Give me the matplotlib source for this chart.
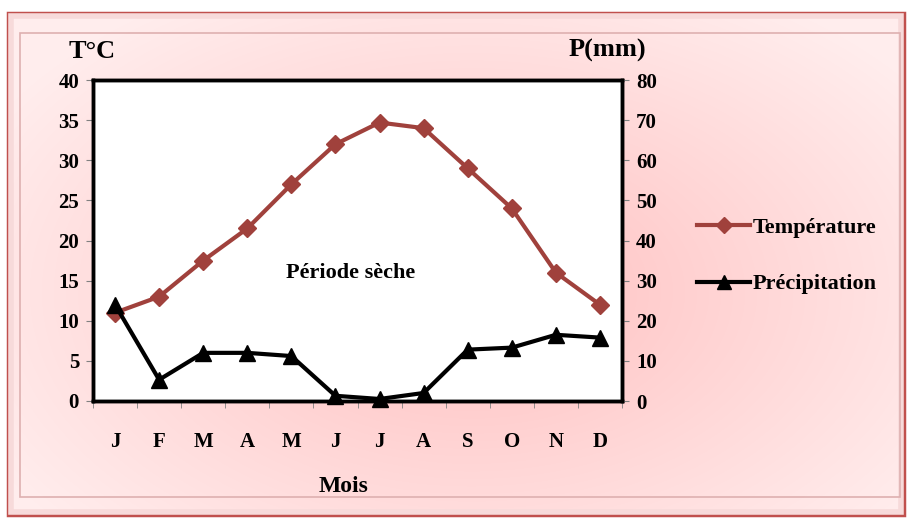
import numpy as np
import matplotlib
matplotlib.use('Agg')
import matplotlib.pyplot as plt
from matplotlib.patches import Rectangle
from matplotlib.lines import Line2D

# données climatiques mensuelles
mois = ['J', 'F', 'M', 'A', 'M', 'J', 'J', 'A', 'S', 'O', 'N', 'D']
temperature = [11, 13, 17.5, 21.5, 27, 32, 34.7, 34, 29, 24, 16, 12]
precipitation = [24, 5.3, 12, 12, 11.2, 1.3, 0.5, 2, 12.8, 13.3, 16.5, 15.8]
t_ticks = [0, 5, 10, 15, 20, 25, 30, 35, 40]
p_ticks = [0, 10, 20, 30, 40, 50, 60, 70, 80]

plt.rcParams['font.family'] = ['Liberation Serif', 'DejaVu Serif']
W, H = 909, 522
fig = plt.figure(figsize=(W / 100, H / 100), dpi=100)
fig.patch.set_facecolor('white')

# fond dégradé rose
bg = fig.add_axes([0, 0, 1, 1], zorder=-10)
bg.set_xlim(0, W)
bg.set_ylim(H, 0)
bg.axis('off')
yy, xx = np.mgrid[0:H, 0:W]
d = np.sqrt(((xx - 470) / 560.0) ** 2 + ((yy - 290) / 360.0) ** 2)
d = np.clip(d, 0, 1)
c0 = np.array([1.0, 0.75, 0.75])
c1 = np.array([1.0, 0.93, 0.93])
img = c0[None, None, :] * (1 - d[..., None]) + c1[None, None, :] * d[..., None]
bg.imshow(img, extent=[8, 904, 515, 13], aspect='auto', zorder=0)
bg.add_patch(Rectangle((8, 13), 896, 502, facecolor='none',
                       edgecolor='#c0504d', linewidth=2.5, zorder=1))
bg.add_patch(Rectangle((11, 16), 890, 496, facecolor='none',
                       edgecolor='#f7dada', linewidth=4, zorder=1))
bg.add_patch(Rectangle((20, 33), 880, 464, facecolor='none',
                       edgecolor='#deb0b0', linewidth=1.2, zorder=2))

# zone de tracé
ax = fig.add_axes([93 / W, 1 - 401 / H, (622 - 93) / W, (401 - 80) / H])
ax.set_facecolor('white')
x = np.arange(len(mois))
ax.plot(x, temperature, color='#a0413c', linewidth=3, marker='D',
        markersize=9, zorder=3)
ax.set_xlim(-0.5, len(mois) - 0.5)
ax.set_ylim(0, 40)
ax.set_yticks(t_ticks)
ax.set_xticks(x)
ax.set_xticklabels(mois)
ax.set_xticks(np.arange(-0.5, len(mois), 1), minor=True)
ax.tick_params(axis='x', which='major', length=0, pad=22)
ax.tick_params(axis='x', which='minor', length=5, color='#808080', direction='out')
ax.tick_params(axis='y', length=5, color='#808080', pad=5)
for lab in ax.get_xticklabels() + ax.get_yticklabels():
    lab.set_fontsize(15)
    lab.set_fontweight('bold')
for s in ax.spines.values():
    s.set_linewidth(2.5)
    s.set_color('black')

ax2 = ax.twinx()
ax2.plot(x, precipitation, color='black', linewidth=3, marker='^',
         markersize=11, zorder=3, clip_on=False)
ax2.set_ylim(0, 80)
ax2.set_yticks(p_ticks)
ax2.tick_params(axis='y', length=5, color='#808080', pad=5)
for lab in ax2.get_yticklabels():
    lab.set_fontsize(15)
    lab.set_fontweight('bold')
for s in ax2.spines.values():
    s.set_linewidth(2.5)

ax.set_xlabel('Mois', fontsize=17, fontweight='bold', labelpad=20)
ax.xaxis.set_label_coords(0.473, -0.235)
fig.text(92 / W, 1 - 52 / H, 'T°C', fontsize=19, fontweight='bold',
         ha='center', va='center')
fig.text(607 / W, 1 - 50 / H, 'P(mm)', fontsize=19, fontweight='bold',
         ha='center', va='center')
ax.text(5.35, 16, 'Période sèche', fontsize=16, fontweight='bold',
        ha='center', va='center')

handles = [
    Line2D([], [], color='#a0413c', linewidth=3, marker='D', markersize=8),
    Line2D([], [], color='black', linewidth=3, marker='^', markersize=10),
]
fig.legend(handles, ['Température', 'Précipitation'],
           loc='center left', bbox_to_anchor=(677 / W, 1 - 256 / H),
           frameon=False, handlelength=2.4, handletextpad=0.1,
           labelspacing=1.6, prop={'size': 16, 'weight': 'bold'})

fig.savefig('out.png', dpi=100)
